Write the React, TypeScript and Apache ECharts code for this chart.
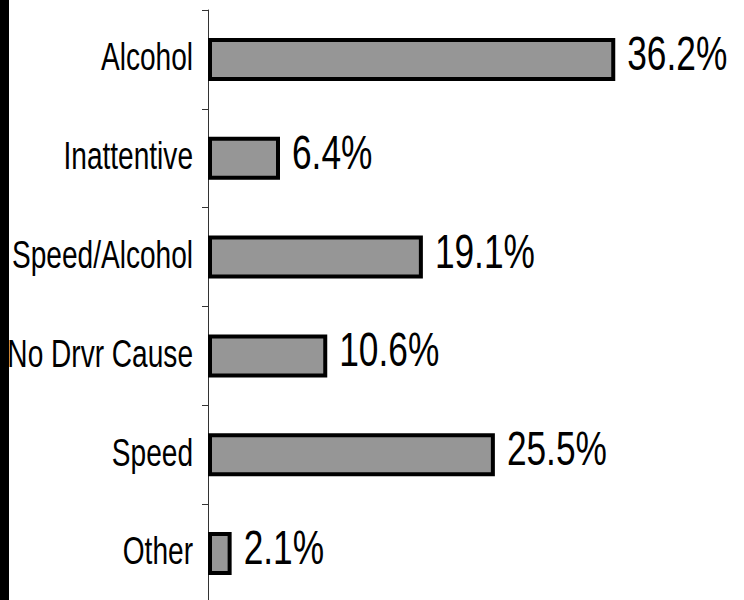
import React, { useEffect, useRef } from "react";
import * as echarts from "echarts";

const categories = ["Alcohol", "Inattentive", "Speed/Alcohol", "No Drvr Cause", "Speed", "Other"];
const values = [36.2, 6.4, 19.1, 10.6, 25.5, 2.1];

const FONT = "'Liberation Sans', Arial, sans-serif";

export default function App() {
  const ref = useRef<HTMLDivElement>(null);
  useEffect(() => {
    const chart = echarts.init(ref.current!, null, { renderer: "svg" });
    chart.setOption({
      animation: false,
      backgroundColor: "#ffffff",
      grid: { left: 208, top: 10, width: 450, height: 593, containLabel: false, outerBoundsMode: "none" },
      xAxis: { type: "value", min: 0, max: 40, show: false },
      yAxis: {
        type: "category",
        inverse: true,
        data: categories,
        axisLine: { show: true, lineStyle: { color: "#333", width: 1 } },
        axisTick: { show: true, length: 6, lineStyle: { color: "#333" } },
        axisLabel: { show: false },
      },
      series: [
        {
          type: "bar",
          data: values,
          barWidth: 43,
          itemStyle: { color: "#969696", borderColor: "#000", borderWidth: 4 },
          label: { show: false },
        },
      ],
    });

    const x0 = chart.convertToPixel({ xAxisIndex: 0 }, 0) as number;
    const texts: any[] = [
      { type: "rect", shape: { x: 0, y: 0, width: 9, height: 600 }, style: { fill: "#000" }, z: 1 },
    ];
    categories.forEach((c, i) => {
      const y = chart.convertToPixel({ yAxisIndex: 0 }, c) as number;
      const xEnd = chart.convertToPixel({ xAxisIndex: 0 }, values[i]) as number;
      texts.push({
        type: "text",
        x: x0 - 15,
        y: y - 3,
        scaleX: 0.72,
        z: 5,
        style: {
          text: c,
          fill: "#000",
          font: `39px ${FONT}`,
          textAlign: "right",
          textVerticalAlign: "middle",
        },
      });
      texts.push({
        type: "text",
        x: xEnd + 12,
        y: y - 6,
        scaleX: 0.735,
        z: 5,
        style: {
          text: values[i].toFixed(1) + "%",
          fill: "#000",
          font: `48px ${FONT}`,
          textAlign: "left",
          textVerticalAlign: "middle",
        },
      });
    });
    chart.setOption({ graphic: texts });
    return () => chart.dispose();
  }, []);
  return <div ref={ref} style={{ position: "fixed", left: 0, top: 0, width: 744, height: 600 }} />;
}
